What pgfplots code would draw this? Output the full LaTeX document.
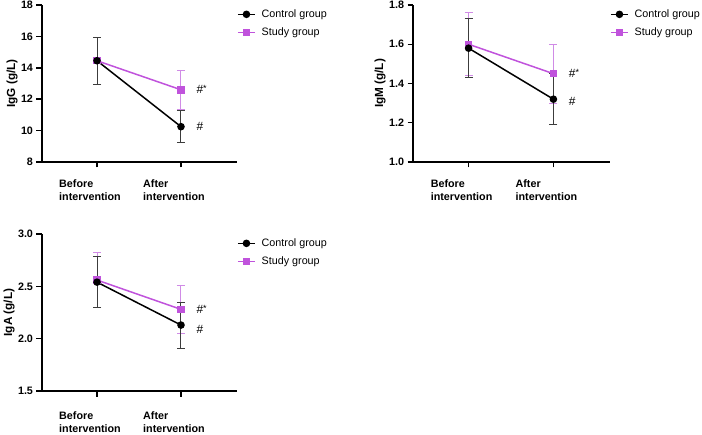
\documentclass[border=0pt]{standalone}
\usepackage{fontspec}
\setmainfont{Liberation Sans}
\usepackage{pgfplots}
\pgfplotsset{compat=1.18}
\definecolor{studyc}{HTML}{C053DC}
\definecolor{studyeb}{HTML}{D08BE6}
\definecolor{ctrleb}{HTML}{3C3C3C}
\newcommand{\fs}{\fontsize{10.8}{13.2}\selectfont}
\pgfplotsset{mystyle/.style={
  scale only axis, width=195bp, height=157bp,
  axis lines=left, axis line style={line width=1.5bp, -},
  xmin=-0.655, xmax=1.667,
  xtick={0,1}, xticklabels={Before\\intervention, After\\intervention},
  xticklabel style={align=left, font=\bfseries\fs, yshift=-9bp, xshift=-7bp},
  ytick style={line width=1.5bp, black}, xtick style={line width=1.5bp, black},
  tick align=outside, major tick length=5.5bp,
  yticklabel style={font=\bfseries\fs, /pgf/number format/.cd, fixed, fixed zerofill, precision=#1},
  /pgf/number format/assume math mode=true,
  ylabel style={font=\bfseries\fontsize{11.8}{13}\selectfont, yshift=-3.5bp},
  legend style={at={(1,1)}, anchor=north west, draw=none, fill=none, font=\fs, row sep=5bp, inner sep=0pt, yshift=-2.5bp,
    /tikz/every odd column/.append style={column sep=4bp}},
  legend cell align=left,
  clip=false,
}}
\pgfplotsset{
  ctrl/.style={black, line width=1.5bp, mark=*, mark size=3bp, mark options={solid}},
  stud/.style={studyc, line width=1.5bp, mark=square*, mark size=3bp, mark options={solid}},
  ctrlerr/.style={error bars/.cd, y dir=both, y explicit, error bar style={ctrleb, line width=1bp}, error mark options={rotate=90, ctrleb, line width=1bp, mark size=4bp}, /pgfplots/.cd},
  studerr/.style={error bars/.cd, y dir=both, y explicit, error bar style={studyeb, line width=1bp}, error mark options={rotate=90, studyeb, line width=1bp, mark size=4bp}, /pgfplots/.cd},
}
\newcommand{\hs}{\fontsize{12}{13}\selectfont}
\begin{document}
\begin{tikzpicture}
\path[use as bounding box] (0,0) rectangle (702bp,435bp);
% Panel 1: IgG
\begin{axis}[mystyle=0, at={(42bp,273bp)}, anchor=south west,
  ymin=8, ymax=18, ytick={8,10,12,14,16,18}, ylabel={IgG (g/L)}]
\addplot[forget plot, stud, studerr] coordinates {(0,14.45) +- (0,1.5) (1,12.6) +- (0,1.25)};
\addplot[ctrl, ctrlerr] coordinates {(0,14.45) +- (0,1.5) (1,10.25) +- (0,1.02)};
\addlegendentry{Control group}
\addlegendimage{stud}
\addlegendentry{Study group}
\node[anchor=west, font=\hs] at (axis cs:1,12.6) [xshift=12bp] {\#\raisebox{0.35ex}{\fontsize{9}{9}\selectfont*}};
\node[anchor=west, font=\hs] at (axis cs:1,10.25) [xshift=12bp] {\#};
\end{axis}
% Panel 2: IgM
\begin{axis}[mystyle=1, at={(413bp,273bp)}, anchor=south west, width=197bp,
  ymin=1.0, ymax=1.8, ytick={1.0,1.2,1.4,1.6,1.8}, ylabel={IgM (g/L)}]
\addplot[forget plot, stud, studerr] coordinates {(0,1.60) +- (0,0.16) (1,1.45) +- (0,0.15)};
\addplot[ctrl, ctrlerr] coordinates {(0,1.58) +- (0,0.15) (1,1.32) +- (0,0.13)};
\addlegendentry{Control group}
\addlegendimage{stud}
\addlegendentry{Study group}
\node[anchor=west, font=\hs] at (axis cs:1,1.45) [xshift=12bp] {\#\raisebox{0.35ex}{\fontsize{9}{9}\selectfont*}};
\node[anchor=west, font=\hs] at (axis cs:1,1.32) [xshift=12bp, yshift=-2bp] {\#};
\end{axis}
% Panel 3: IgA
\begin{axis}[mystyle=1, at={(42bp,44bp)}, anchor=south west,
  xticklabel style={yshift=-3bp},
  ymin=1.5, ymax=3.0, ytick={1.5,2.0,2.5,3.0}, ylabel={IgA (g/L)}]
\addplot[forget plot, stud, studerr] coordinates {(0,2.56) +- (0,0.26) (1,2.28) +- (0,0.23)};
\addplot[ctrl, ctrlerr] coordinates {(0,2.54) +- (0,0.245) (1,2.13) +- (0,0.22)};
\addlegendentry{Control group}
\addlegendimage{stud}
\addlegendentry{Study group}
\node[anchor=west, font=\hs] at (axis cs:1,2.28) [xshift=12bp] {\#\raisebox{0.35ex}{\fontsize{9}{9}\selectfont*}};
\node[anchor=west, font=\hs] at (axis cs:1,2.13) [xshift=12bp, yshift=-4bp] {\#};
\end{axis}
\end{tikzpicture}
\end{document}
